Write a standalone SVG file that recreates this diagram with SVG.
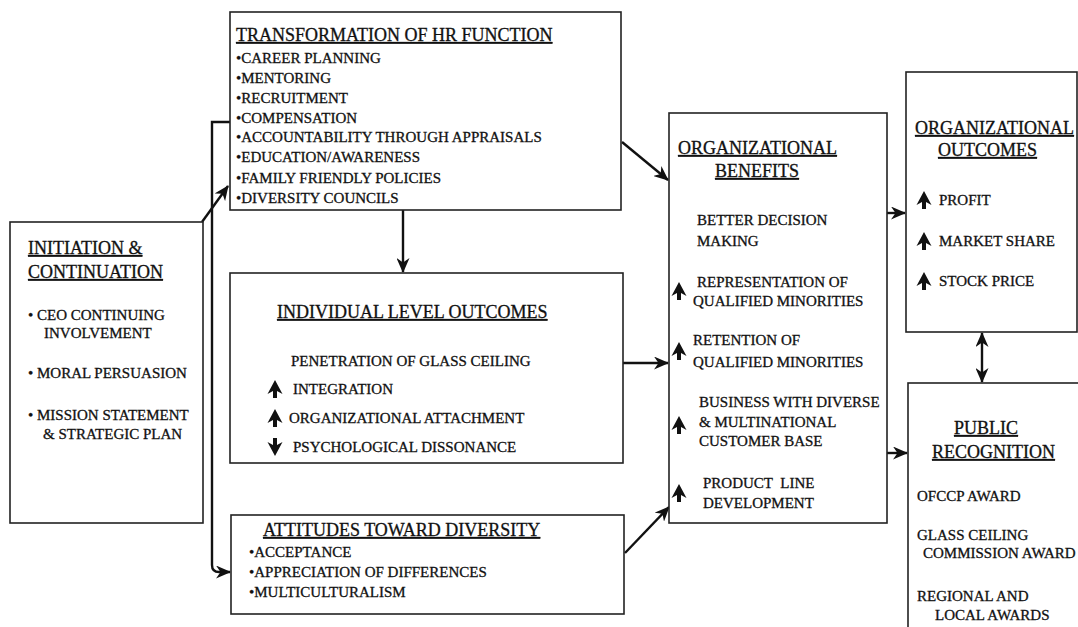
<svg xmlns="http://www.w3.org/2000/svg" width="1078" height="627" viewBox="0 0 1078 627">
<style>
.box{fill:#fff;stroke:#222;stroke-width:1.6}
text{font-family:"Liberation Serif","Times New Roman",serif;fill:#111;stroke:#111;stroke-width:0.3}
.t{font-size:18px;text-decoration:underline}
.i{font-size:15px}
.c{fill:none;stroke:#111;stroke-width:2.4}
</style>
<defs>
<marker id="ah" markerUnits="userSpaceOnUse" markerWidth="15" markerHeight="13" refX="14" refY="6.5" orient="auto-start-reverse" viewBox="0 0 15 13">
<path d="M0,0 L15,6.5 L0,13 L4.5,6.5 Z" fill="#111"/>
</marker>
<path id="up" d="M0,-9 L7.5,5 L2,2 L2,9 L-2,9 L-2,2 L-7.5,5 Z" fill="#111"/>
<path id="dn" d="M0,9 L7.5,-5 L2,-2 L2,-9 L-2,-9 L-2,-2 L-7.5,-5 Z" fill="#111"/>
</defs>
<rect width="1078" height="627" fill="#fff"/>

<g id="connectors">
<path class="c" d="M202,222 L228,186" marker-end="url(#ah)"/>
<path class="c" d="M230,122 H212 V565 Q212,572 219,572 H230" marker-end="url(#ah)"/>
<path class="c" d="M403,210 V272" marker-end="url(#ah)"/>
<path class="c" d="M622,142 L668,180" marker-end="url(#ah)"/>
<path class="c" d="M623,363 H668" marker-end="url(#ah)"/>
<path class="c" d="M625,553 L669,507" marker-end="url(#ah)"/>
<path class="c" d="M887,213 H905" marker-end="url(#ah)"/>
<path class="c" d="M887,453 H907" marker-end="url(#ah)"/>
<path class="c" d="M982,333 V382" marker-start="url(#ah)" marker-end="url(#ah)"/>
</g>

<g id="initiation">
<rect class="box" x="10" y="222" width="193" height="301"/>
<text class="t" x="28" y="254">INITIATION &amp;</text>
<text class="t" x="28" y="278">CONTINUATION</text>
<text class="i" x="28" y="320">• CEO CONTINUING</text>
<text class="i" x="44" y="338">INVOLVEMENT</text>
<text class="i" x="28" y="378">• MORAL PERSUASION</text>
<text class="i" x="28" y="420">• MISSION STATEMENT</text>
<text class="i" x="43" y="439">&amp; STRATEGIC PLAN</text>
</g>

<g id="hr">
<rect class="box" x="230" y="12" width="391" height="198"/>
<text class="t" x="236" y="41">TRANSFORMATION OF HR FUNCTION</text>
<text class="i" x="236" y="63">•CAREER PLANNING</text>
<text class="i" x="236" y="83">•MENTORING</text>
<text class="i" x="236" y="103">•RECRUITMENT</text>
<text class="i" x="236" y="123">•COMPENSATION</text>
<text class="i" x="236" y="142">•ACCOUNTABILITY THROUGH APPRAISALS</text>
<text class="i" x="236" y="162">•EDUCATION/AWARENESS</text>
<text class="i" x="236" y="183">•FAMILY FRIENDLY POLICIES</text>
<text class="i" x="236" y="203">•DIVERSITY COUNCILS</text>
</g>

<g id="individual">
<rect class="box" x="230" y="273" width="393" height="190"/>
<text class="t" x="277" y="318">INDIVIDUAL LEVEL OUTCOMES</text>
<text class="i" x="291" y="366">PENETRATION OF GLASS CEILING</text>
<use href="#up" x="275" y="389"/>
<text class="i" x="293" y="394">INTEGRATION</text>
<use href="#up" x="275" y="418"/>
<text class="i" x="289" y="423">ORGANIZATIONAL ATTACHMENT</text>
<use href="#dn" x="275" y="447"/>
<text class="i" x="293" y="452">PSYCHOLOGICAL DISSONANCE</text>
</g>

<g id="attitudes">
<rect class="box" x="231" y="515" width="393" height="99"/>
<text class="t" x="263" y="536">ATTITUDES TOWARD DIVERSITY</text>
<text class="i" x="249" y="557">•ACCEPTANCE</text>
<text class="i" x="249" y="577">•APPRECIATION OF DIFFERENCES</text>
<text class="i" x="249" y="597">•MULTICULTURALISM</text>
</g>

<g id="benefits">
<rect class="box" x="669" y="113" width="218" height="410"/>
<text class="t" x="678" y="154">ORGANIZATIONAL</text>
<text class="t" x="715" y="177">BENEFITS</text>
<text class="i" x="697" y="225">BETTER DECISION</text>
<text class="i" x="697" y="246">MAKING</text>
<use href="#up" x="679" y="291"/>
<text class="i" x="697" y="287">REPRESENTATION OF</text>
<text class="i" x="693" y="306">QUALIFIED MINORITIES</text>
<use href="#up" x="679" y="351"/>
<text class="i" x="693" y="345">RETENTION OF</text>
<text class="i" x="693" y="367">QUALIFIED MINORITIES</text>
<use href="#up" x="679" y="425"/>
<text class="i" x="699" y="407">BUSINESS WITH DIVERSE</text>
<text class="i" x="699" y="427">&amp; MULTINATIONAL</text>
<text class="i" x="699" y="446">CUSTOMER BASE</text>
<use href="#up" x="679" y="493"/>
<text class="i" x="703" y="488" xml:space="preserve">PRODUCT  LINE</text>
<text class="i" x="703" y="508">DEVELOPMENT</text>
</g>

<g id="outcomes">
<rect class="box" x="906" y="72" width="171" height="260"/>
<text class="t" x="915" y="134">ORGANIZATIONAL</text>
<text class="t" x="938" y="156">OUTCOMES</text>
<use href="#up" x="924" y="200"/>
<text class="i" x="939" y="205">PROFIT</text>
<use href="#up" x="924" y="241"/>
<text class="i" x="939" y="246">MARKET SHARE</text>
<use href="#up" x="924" y="281"/>
<text class="i" x="939" y="286">STOCK PRICE</text>
</g>

<g id="public">
<rect class="box" x="908" y="383" width="200" height="260"/>
<text class="t" x="954" y="434">PUBLIC</text>
<text class="t" x="932" y="458">RECOGNITION</text>
<text class="i" x="917" y="501">OFCCP AWARD</text>
<text class="i" x="917" y="540">GLASS CEILING</text>
<text class="i" x="923" y="558">COMMISSION AWARD</text>
<text class="i" x="917" y="601">REGIONAL AND</text>
<text class="i" x="935" y="620">LOCAL AWARDS</text>
</g>
</svg>
